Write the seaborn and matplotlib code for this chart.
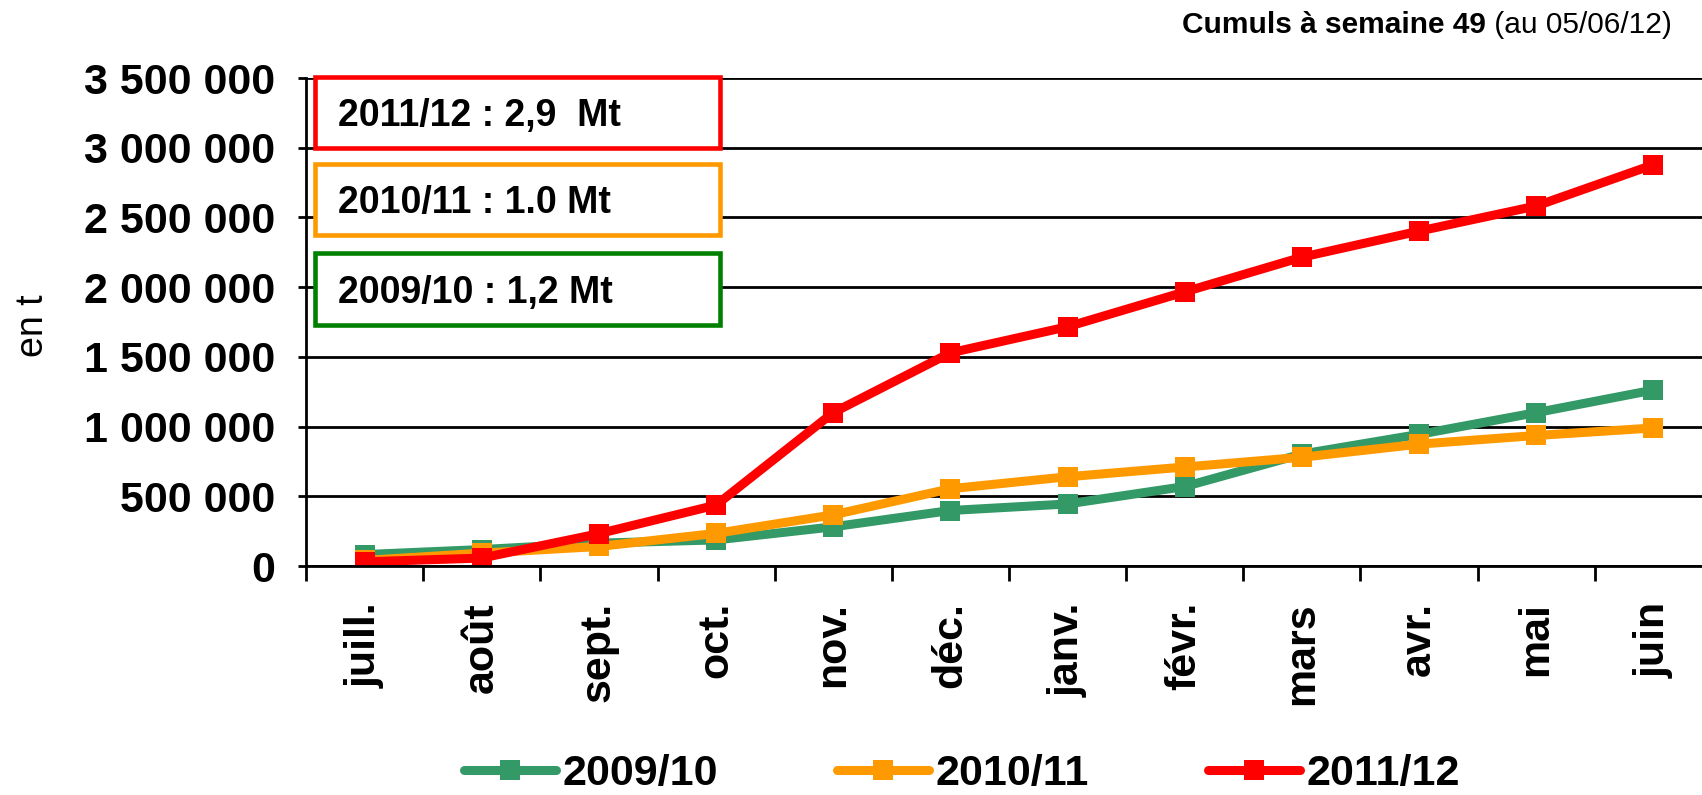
import matplotlib
matplotlib.use("Agg")
import matplotlib.pyplot as plt
import matplotlib.patches as mpatches
from matplotlib.ticker import FixedLocator, FuncFormatter
import seaborn as sns
import pandas as pd
import numpy as np

months = ["juill.", "août", "sept.", "oct.", "nov.", "déc.", "janv.", "févr.", "mars", "avr.", "mai", "juin"]
s2009 = [82000, 118000, 164000, 187000, 281000, 398000, 445000, 570000, 803000, 944000, 1100000, 1262000]
s2010 = [40000, 92000, 140000, 234000, 367000, 554000, 640000, 710000, 780000, 874000, 936000, 990000]
s2011 = [30000, 57000, 232000, 437000, 1100000, 1529000, 1716000, 1966000, 2215000, 2402000, 2582000, 2878000]
series_names = ["2009/10", "2010/11", "2011/12"]
series_colors = ["#339966", "#FF9900", "#FF0000"]
box_texts = ["2011/12 : 2,9  Mt", "2010/11 : 1.0 Mt", "2009/10 : 1,2 Mt"]
box_colors = ["#FF0000", "#FF9900", "#008000"]
y_ticks = [0, 500000, 1000000, 1500000, 2000000, 2500000, 3000000, 3500000]

sns.set_theme(style="white")
plt.rcParams["font.family"] = ["Liberation Sans", "DejaVu Sans"]
for k in ["text.color", "axes.labelcolor", "xtick.color", "ytick.color"]:
    plt.rcParams[k] = "black"

W, H = 1702, 795
fig = plt.figure(figsize=(W / 100, H / 100), dpi=100)
ax = fig.add_axes([306 / W, 1 - 566 / H, 1406 / W, (566 - 78) / H])

df = pd.DataFrame({
    "idx": list(range(12)) * 3,
    "val": s2009 + s2010 + s2011,
    "serie": sum([[n] * 12 for n in series_names], []),
})
for name, col in zip(series_names, series_colors):
    sub = df[df["serie"] == name]
    sns.lineplot(data=sub, x="idx", y="val", ax=ax, color=col, lw=6.5,
                 marker="s", markersize=14.5, markeredgewidth=0, label=name,
                 sort=False, solid_capstyle="round")

ax.set_xlim(-0.5, 11.5)
ax.set_ylim(0, 3500000)
ax.set_yticks(y_ticks)
ax.yaxis.set_major_formatter(FuncFormatter(lambda v, p: f"{int(v):,}".replace(",", " ")))
ax.grid(axis="y", color="black", lw=2)
ax.set_axisbelow(True)
for s in ["top", "right"]:
    ax.spines[s].set_visible(False)
for s in ["left", "bottom"]:
    ax.spines[s].set_color("black")
    ax.spines[s].set_linewidth(2)

ax.xaxis.set_major_locator(FixedLocator(np.arange(-0.5, 12, 1)))
ax.xaxis.set_major_formatter(FuncFormatter(lambda v, p: ""))
ax.xaxis.set_minor_locator(FixedLocator(np.arange(0, 12, 1)))
ax.set_xticklabels(months, minor=True, rotation=90, fontsize=31, fontweight="bold")
ax.tick_params(axis="x", which="major", direction="out", length=11, width=2, color="black", bottom=True)
ax.tick_params(axis="x", which="minor", length=0, pad=26)
ax.tick_params(axis="y", direction="out", length=6, width=2, color="black", left=True, pad=16,
               labelsize=31)
for t in ax.get_yticklabels():
    t.set_fontweight("bold")
ax.set_xlabel("")
ax.set_ylabel("")

fig.text(33 / W, 1 - 326 / H, "en t", rotation=90, ha="center", va="center", fontsize=27)

# header text
hy = 1 - 25 / H
t1 = fig.text(1672 / W, hy, " (au 05/06/12)", ha="right", va="center", fontsize=21.5)
fig.canvas.draw()
bb = t1.get_window_extent()
fig.text(bb.x0 / W, hy, "Cumuls à semaine 49", ha="right", va="center",
         fontsize=21.5, fontweight="bold")

# boxes
box_y = [(77, 148), (164, 235), (253, 325)]
for (y0, y1), txt, c in zip(box_y, box_texts, box_colors):
    rect = mpatches.Rectangle((315 / W, 1 - y1 / H), (720 - 315) / W, (y1 - y0) / H,
                              transform=fig.transFigure, facecolor="white", edgecolor=c,
                              lw=3.3, zorder=10)
    fig.patches.append(rect)
    fig.text(338 / W, 1 - (y0 + y1) / 2 / H, txt, ha="left", va="center_baseline",
             fontsize=27, fontweight="bold", zorder=11)

leg = ax.legend(loc="center", bbox_to_anchor=(962 / W, 1 - 774 / H),
                bbox_transform=fig.transFigure, ncol=3, frameon=False,
                handlelength=2.15, handletextpad=0.15, columnspacing=2.75,
                prop={"weight": "bold", "size": 31})

fig.savefig("out.png", dpi=100)
